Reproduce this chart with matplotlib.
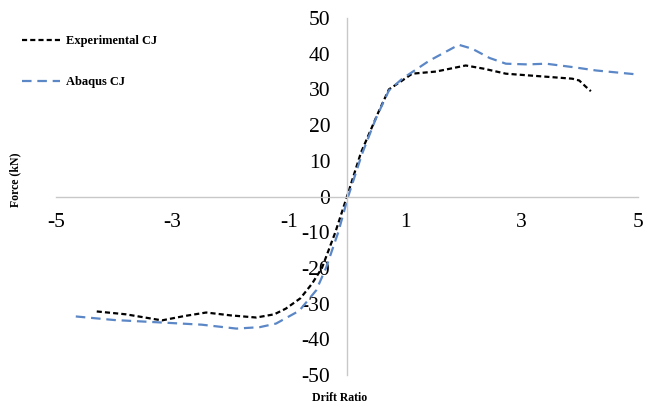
import matplotlib
matplotlib.use("Agg")
import matplotlib.pyplot as plt

exp_x = [-4.30, -3.80, -3.18, -2.80, -2.42, -2.00, -1.56, -1.25, -1.05, -0.80, -0.60, -0.43, -0.20, 0.00, 0.24, 0.55, 0.72, 0.95, 1.12, 1.53, 2.04, 2.35, 2.73, 3.30, 3.87, 3.99, 4.10, 4.19]
exp_y = [-32.2, -33.0, -34.7, -33.5, -32.5, -33.3, -33.9, -33.0, -31.4, -28.5, -24.4, -20.0, -10.0, 0.0, 12.3, 24.0, 30.0, 32.5, 34.4, 35.0, 36.7, 35.8, 34.4, 33.7, 33.0, 32.5, 30.8, 29.5]

abq_x = [-4.66, -4.00, -3.18, -2.50, -1.90, -1.50, -1.22, -0.82, -0.53, -0.36, -0.15, 0.02, 0.26, 0.50, 0.72, 0.95, 1.41, 1.92, 2.15, 2.45, 2.73, 3.10, 3.42, 3.90, 4.28, 4.98]
abq_y = [-33.6, -34.6, -35.3, -35.9, -37.0, -36.6, -35.6, -32.0, -26.3, -20.0, -10.0, 0.0, 12.0, 22.0, 29.7, 33.0, 38.0, 42.5, 41.4, 38.8, 37.2, 37.0, 37.2, 36.2, 35.3, 34.2]

x_ticks = [-5, -3, -1, 1, 3, 5]
y_ticks = [-50, -40, -30, -20, -10, 0, 10, 20, 30, 40, 50]

serif = ["Liberation Serif", "DejaVu Serif"]

fig = plt.figure(figsize=(6.56, 4.07), dpi=100)
ax = fig.add_axes([56/656, 1-375/407, (638-56)/656, (375-18)/407])

l1, = ax.plot(exp_x, exp_y, color="black", lw=1.6, label="Experimental CJ")
l1.set_dashes([2.3, 1.4])
l2, = ax.plot(abq_x, abq_y, color="#5b87c7", lw=1.6, label="Abaqus CJ")
l2.set_dashes([4.3, 2.6])

ax.set_xlim(-5, 5)
ax.set_ylim(-50, 50)
ax.spines["left"].set_position(("data", 0))
ax.spines["bottom"].set_position(("data", 0))
for s in ["top", "right"]:
    ax.spines[s].set_visible(False)
for s in ["left", "bottom"]:
    ax.spines[s].set_color("#c8c8c8")
    ax.spines[s].set_linewidth(1.0)
ax.set_xticks(x_ticks)
ax.set_yticks(y_ticks)
ax.set_xticklabels([str(v) for v in x_ticks], family=serif, fontsize=15.5)
ax.set_yticklabels([str(v) for v in y_ticks], family=serif, fontsize=15.5)
ax.tick_params(axis="x", length=0, pad=12)
ax.tick_params(axis="y", length=0, pad=12)
ax.patch.set_alpha(0)

fig.text(15/656, 1-180/407, "Force (kN)", rotation=90, ha="center", va="center",
         family=serif, fontsize=8.5, fontweight="bold")
fig.text(340/656, 1-398/407, "Drift Ratio", ha="center", va="center",
         family=serif, fontsize=8.5, fontweight="bold")

leg = fig.legend(handles=[l1, l2], loc="upper left", bbox_to_anchor=(17/656, 1-30/407),
                 frameon=False, prop={"family": serif, "size": 9, "weight": "bold"},
                 handlelength=3.0, handletextpad=0.5, labelspacing=2.35, borderaxespad=0)

fig.savefig("out.png", dpi=100)
